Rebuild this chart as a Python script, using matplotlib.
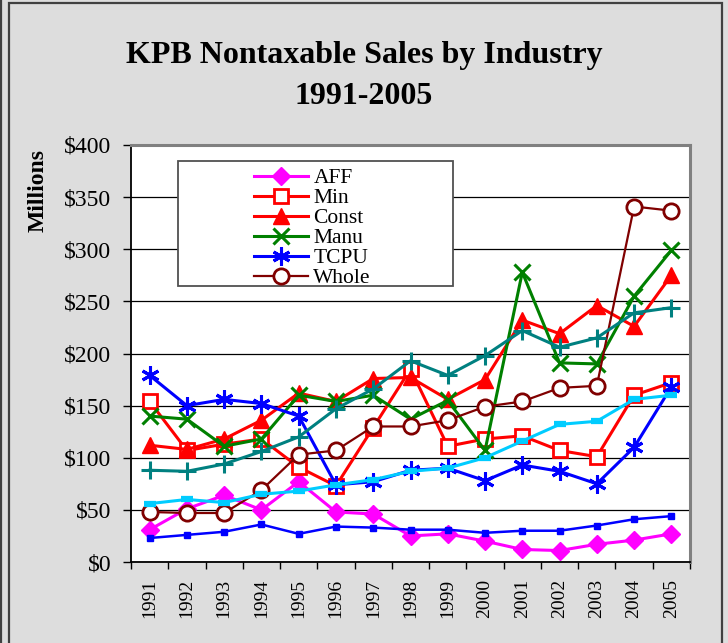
import numpy as np
import matplotlib
matplotlib.use("Agg")
import matplotlib.pyplot as plt
from matplotlib.patches import Rectangle
from matplotlib.lines import Line2D

plt.rcParams['font.family'] = ['Liberation Serif', 'DejaVu Serif']

years = ["1991", "1992", "1993", "1994", "1995", "1996", "1997", "1998",
         "1999", "2000", "2001", "2002", "2003", "2004", "2005"]

# values in $ millions
aff   = [31, 51, 64, 50, 77, 48, 46, 25, 27, 20, 12, 11, 17, 21, 27]
mins  = [154, 107, 113, 118, 91, 73, 129, 185, 111, 118, 121, 107, 101, 160, 172]
const = [112, 108, 118, 136, 162, 154, 176, 177, 156, 175, 232, 219, 246, 226, 275]
manu  = [140, 137, 111, 118, 160, 154, 160, 137, 155, 107, 278, 191, 190, 255, 299]
tcpu  = [179, 150, 156, 152, 140, 74, 77, 88, 90, 78, 93, 87, 75, 110, 168]
whole = [48, 47, 47, 69, 103, 107, 130, 130, 136, 149, 154, 167, 169, 341, 337]
# three more series that are cut out of the legend box
teal_s   = [88, 87, 94, 106, 120, 147, 166, 193, 179, 198, 222, 206, 215, 239, 244]
ltblue_s = [56, 60, 57, 65, 68, 74, 79, 87, 90, 100, 116, 132, 135, 156, 160]
blue_s   = [23, 26, 29, 36, 27, 34, 33, 31, 31, 28, 30, 30, 35, 41, 44]

W, H = 728, 643
fig = plt.figure(figsize=(W / 100, H / 100), dpi=100, facecolor="#DDDDDD")

# outer chart-area border
fig.add_artist(Rectangle((9 / W, -0.05), (722 - 9) / W, (1 - 3 / H) + 0.05,
                         transform=fig.transFigure, fill=False,
                         edgecolor="#404040", lw=1.6))
fig.add_artist(Line2D([1 / W, 1 / W], [0, 1], transform=fig.transFigure,
                      color="#404040", lw=1.6))

ax = fig.add_axes([131 / W, 1 - 562 / H, (690 - 131) / W, (562 - 145) / H])
ax.set_facecolor("white")
x = np.arange(len(years))

lw = 2.2
ax.plot(x, aff, color="#FF00FF", lw=lw, marker="D", ms=9, label="AFF")
ax.plot(x, mins, color="#FF0000", lw=lw, marker="s", ms=10, mfc="white",
        mew=2, label="Min")
ax.plot(x, const, color="#FF0000", lw=lw, marker="^", ms=11, label="Const")
ax.plot(x, manu, color="#008000", lw=lw, marker="x", ms=12, mew=2.2,
        label="Manu")
ax.plot(x, tcpu, color="#0000FF", lw=lw, marker=(6, 2, 0), ms=13, mew=2.2,
        label="TCPU")
ax.plot(x, whole, color="#800000", lw=1.6, marker="o", ms=11, mfc="white",
        mew=2, label="Whole")
ax.plot(x, teal_s, color="#008080", lw=lw, marker="+", ms=13, mew=2.2)
ax.plot(x, ltblue_s, color="#00CCFF", lw=lw, marker="_", ms=9, mew=4.5)
ax.plot(x, blue_s, color="#0000FF", lw=1.8, marker="s", ms=4.5)

ax.set_xlim(-0.5, len(years) - 0.5)
ax.set_ylim(0, 400)
ax.set_yticks(np.arange(0, 401, 50))
ax.set_yticklabels(["$%d" % v for v in range(0, 401, 50)], fontsize=17)
ax.yaxis.grid(True, color="black", lw=0.9)
ax.set_axisbelow(True)
ax.tick_params(axis="y", direction="out", length=6, width=1, pad=8)

# year labels centred, ticks between categories
ax.set_xticks(np.arange(-0.5, len(years), 1.0))
ax.set_xticklabels([])
ax.set_xticks(x, minor=True)
ax.set_xticklabels(years, minor=True, rotation=90, fontsize=14)
ax.tick_params(axis="x", which="major", direction="out", length=5, width=1)
ax.tick_params(axis="x", which="minor", length=0, pad=12)

for side in ["left", "bottom"]:
    ax.spines[side].set_color("black")
    ax.spines[side].set_linewidth(1.3)
for side in ["top", "right"]:
    ax.spines[side].set_color("#808080")
    ax.spines[side].set_linewidth(2.2)

ax.set_ylabel("Millions", fontsize=17, fontweight="bold")
ax.yaxis.set_label_coords(-(131 - 49) / 559, (562 - 190) / 417)

# legend box (clipped like the original)
box = Rectangle((47 / 559, (562 - 286) / 417), (453 - 178) / 559,
                (286 - 161) / 417, transform=ax.transAxes, facecolor="white",
                edgecolor="#505050", lw=1.3, zorder=4.5, clip_on=False)
ax.add_patch(box)
leg = ax.legend(loc="upper center", bbox_to_anchor=(312.5 / W, 1 - 168 / H),
                bbox_transform=fig.transFigure, frameon=False, fontsize=15.5,
                borderpad=0, borderaxespad=0, labelspacing=0.0,
                handlelength=2.5, handletextpad=0.25)
leg.set_zorder(6)

fig.text(0.5, 1 - 56 / H, "KPB Nontaxable Sales by Industry", ha="center",
         va="center", fontsize=23, fontweight="bold")
fig.text(0.5, 1 - 96 / H, "1991-2005", ha="center", va="center",
         fontsize=23, fontweight="bold")

fig.savefig("out.png", dpi=100, facecolor=fig.get_facecolor())
